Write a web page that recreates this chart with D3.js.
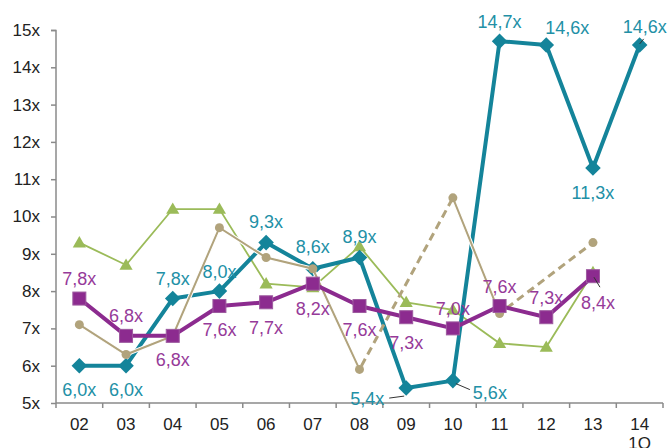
<!DOCTYPE html>
<html>
<head>
<meta charset="utf-8">
<script src="https://cdn.jsdelivr.net/npm/d3@7"></script>
<style>
  body { margin: 0; background: #fff; }
  svg { display: block; font-family: "Liberation Sans", Arial, sans-serif; }
</style>
</head>
<body>
<div id="chart"></div>
<script>
// data
const categories = ["02", "03", "04", "05", "06", "07", "08", "09", "10", "11", "12", "13", "14"];
const tealValues = [6.0, 6.0, 7.8, 8.0, 9.3, 8.6, 8.9, 5.4, 5.6, 14.7, 14.6, 11.3, 14.6];
const purpleValues = [7.8, 6.8, 6.8, 7.6, 7.7, 8.2, 7.6, 7.3, 7.0, 7.6, 7.3, 8.4, null];
const greenValues = [9.3, 8.7, 10.2, 10.2, 8.2, 8.1, 9.2, 7.7, 7.5, 6.6, 6.5, 8.5, null];
const tanValues = [7.1, 6.3, 6.8, 9.7, 8.9, 8.6, 5.9, null, 10.5, 7.4, null, 9.3, null];
const yTicks = [5, 6, 7, 8, 9, 10, 11, 12, 13, 14, 15];

// label placement (offset from the point, in px)
const tealLabelPos = [[0, 24], [0, 24], [0, -20], [0, -20], [0, -21], [0, -22], [0, -21],
  [-39, 10], [37, 12], [0, -20], [21, -17], [0, 25], [5, -18]];
const purpleLabelPos = [[0, -20], [0, -20], [0, 24], [0, 23], [0, 25], [0, 25], [0, 23],
  [0, 25], [0, -20], [0, -20], [0, -20], [5, 26], null];

const width = 671, height = 448;
const svg = d3.select("#chart").append("svg").attr("width", width).attr("height", height);

const x = d3.scaleBand().domain(categories).range([56, 663]).padding(0);
const y = d3.scaleLinear().domain([5, 15]).range([403, 30]);
const cx = c => x(c) + x.bandwidth() / 2;
const fmt = v => d3.format(".1f")(v).replace(".", ",") + "x";

const axisColor = "#8a8a8a";

// y axis
const yAxis = svg.append("g").attr("transform", "translate(56,0)")
  .call(d3.axisLeft(y).tickValues(yTicks).tickSize(5).tickPadding(11).tickFormat(d => d + "x"));
yAxis.select(".domain").attr("stroke", axisColor).attr("stroke-width", 1.5).attr("d", "M-5,30.5H0V403");
yAxis.selectAll(".tick line").attr("stroke", axisColor).attr("stroke-width", 1.5);
yAxis.selectAll(".tick text").attr("font-size", 17).attr("fill", "#222");

// x axis, ticks on band edges
const xAxis = svg.append("g").attr("transform", "translate(0,403)");
xAxis.append("line").attr("x1", 56).attr("x2", 663).attr("stroke", axisColor).attr("stroke-width", 1.5);
xAxis.selectAll("line.tk").data(categories.concat(["end"])).enter().append("line").attr("class", "tk")
  .attr("x1", (d, i) => i < categories.length ? x(d) : x.range()[1])
  .attr("x2", (d, i) => i < categories.length ? x(d) : x.range()[1])
  .attr("y1", 0).attr("y2", 5).attr("stroke", axisColor).attr("stroke-width", 1.5);
const xl = xAxis.selectAll("text").data(categories).enter().append("text")
  .attr("x", d => cx(d)).attr("y", 27).attr("text-anchor", "middle")
  .attr("font-size", 17).attr("fill", "#222");
xl.append("tspan").attr("x", d => cx(d)).text(d => d);
xl.filter(d => d === "14").append("tspan").attr("x", d => cx(d)).attr("dy", 19).text("1Q");

const line = d3.line().defined(d => d.v != null).x(d => cx(d.c)).y(d => y(d.v));
const pts = vals => vals.map((v, i) => ({ c: categories[i], v: v, i: i }));

// green series
const greenColor = "#9bbb59";
svg.append("path").datum(pts(greenValues)).attr("d", line)
  .attr("fill", "none").attr("stroke", greenColor).attr("stroke-width", 1.8);
svg.append("g").selectAll("path").data(pts(greenValues).filter(d => d.v != null)).enter().append("path")
  .attr("d", d3.symbol().type(d3.symbolTriangle).size(75))
  .attr("transform", d => `translate(${cx(d.c)},${y(d.v) + 1})`).attr("fill", greenColor);

// teal series
const tealColor = "#14849a";
svg.append("path").datum(pts(tealValues)).attr("d", line)
  .attr("fill", "none").attr("stroke", tealColor).attr("stroke-width", 4).attr("stroke-linejoin", "round");
svg.append("g").selectAll("rect").data(pts(tealValues)).enter().append("rect")
  .attr("x", -5.5).attr("y", -5.5).attr("width", 11).attr("height", 11)
  .attr("transform", d => `translate(${cx(d.c)},${y(d.v)}) rotate(45)`).attr("fill", tealColor);

// tan series, dashed over the missing years
const tanColor = "#b1a37c";
const tanPts = pts(tanValues);
svg.append("path").datum(tanPts.filter(d => d.v != null)).attr("d", line)
  .attr("fill", "none").attr("stroke", tanColor).attr("stroke-width", 3).attr("stroke-dasharray", "8,5");
svg.append("path").datum(tanPts).attr("d", line)
  .attr("fill", "none").attr("stroke", "#fff").attr("stroke-width", 4);
svg.append("path").datum(tanPts).attr("d", line)
  .attr("fill", "none").attr("stroke", tanColor).attr("stroke-width", 2);
svg.append("g").selectAll("circle").data(tanPts.filter(d => d.v != null)).enter().append("circle")
  .attr("cx", d => cx(d.c)).attr("cy", d => y(d.v)).attr("r", 4.5).attr("fill", tanColor);

// purple series
const purpleColor = "#8c2b8f";
svg.append("path").datum(pts(purpleValues)).attr("d", line)
  .attr("fill", "none").attr("stroke", purpleColor).attr("stroke-width", 4).attr("stroke-linejoin", "round");
svg.append("g").selectAll("rect").data(pts(purpleValues).filter(d => d.v != null)).enter().append("rect")
  .attr("x", d => cx(d.c) - 6.5).attr("y", d => y(d.v) - 6.5).attr("width", 13).attr("height", 13)
  .attr("fill", purpleColor).attr("stroke", "#9d5a9f").attr("stroke-width", 1);

// leader lines
function leader(vals, i, dx1, dy1, dx2, dy2) {
  const px = cx(categories[i]), py = y(vals[i]);
  svg.append("line").attr("x1", px + dx1).attr("y1", py + dy1).attr("x2", px + dx2).attr("y2", py + dy2)
    .attr("stroke", "#333").attr("stroke-width", 1);
}
leader(tealValues, 7, -17, 10, -2, 8);
leader(tealValues, 8, 3, 3, 17, 9);
leader(tealValues, 12, 0, -1, 4, -6);
leader(purpleValues, 11, 1, 1, 7, 11);

// labels
function labels(vals, pos, color) {
  svg.append("g").selectAll("text").data(pts(vals).filter(d => d.v != null)).enter().append("text")
    .attr("x", d => cx(d.c) + pos[d.i][0]).attr("y", d => y(d.v) + pos[d.i][1])
    .attr("dy", "0.36em").attr("text-anchor", "middle").attr("font-size", 18)
    .attr("fill", color).text(d => fmt(d.v));
}
labels(tealValues, tealLabelPos, "#2290a6");
labels(purpleValues, purpleLabelPos, "#963a99");
</script>
</body>
</html>
